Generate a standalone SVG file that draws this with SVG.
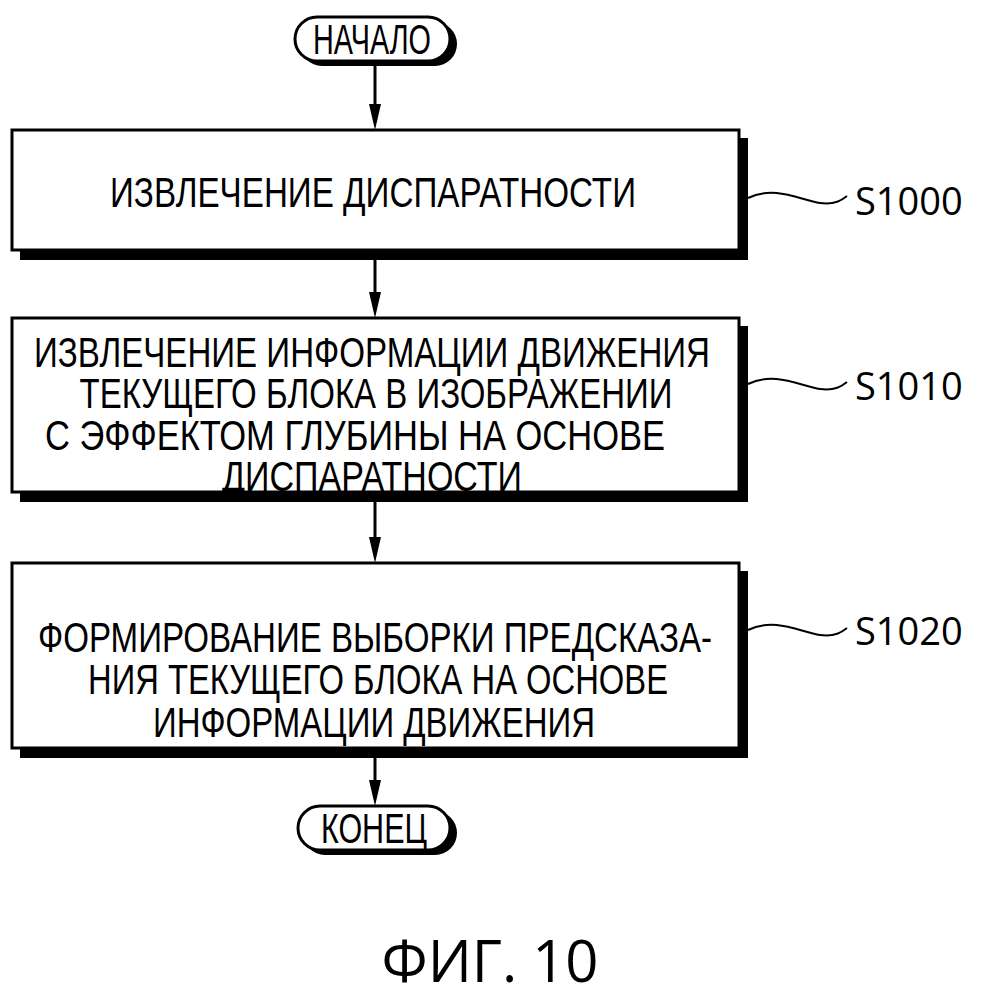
<svg xmlns="http://www.w3.org/2000/svg" width="984" height="1000" viewBox="0 0 984 1000">
<defs>
<style>
.box{fill:#fff;stroke:#000;stroke-width:3}
.sh{fill:#000}
.t{font-family:"Liberation Sans",Arial,sans-serif;font-size:42px;text-anchor:middle;fill:#000}
.lb{font-family:"Open Sans","Noto Sans",sans-serif;font-size:38px;fill:#000}
.ln{fill:none;stroke:#000;stroke-width:3}
.sq{fill:none;stroke:#000;stroke-width:2}
</style>
</defs>
<g id="connectors">
<line class="ln" x1="375" y1="66" x2="375" y2="110"/><path d="M369,104 L381,104 L375,130 Z"/>
<line class="ln" x1="375" y1="260" x2="375" y2="296"/><path d="M369,292 L381,292 L375,318 Z"/>
<line class="ln" x1="375" y1="502" x2="375" y2="540"/><path d="M369,537 L381,537 L375,563 Z"/>
<line class="ln" x1="375" y1="758" x2="375" y2="784"/><path d="M369,780 L381,780 L375,806 Z"/>
<path class="sq" d="M748,198 C775,185 800,200 820,203 C835,205 842,200 847,196"/>
<path class="sq" d="M748,384 C775,371 800,386 820,389 C835,391 842,386 847,382"/>
<path class="sq" d="M748,630 C775,617 800,632 820,635 C835,637 842,632 847,628"/>
</g>
<g id="start">
<rect class="sh" x="300" y="22" width="157" height="44" rx="22"/>
<rect class="box" x="295" y="17" width="155" height="44" rx="22"/>
<text class="t" x="372" y="54" textLength="118" lengthAdjust="spacingAndGlyphs">НАЧАЛО</text>
</g>
<g id="s1000">
<rect class="sh" x="20" y="138" width="728" height="122"/>
<rect class="box" x="12" y="130" width="727" height="120"/>
<text class="t" x="373" y="207" textLength="526" lengthAdjust="spacingAndGlyphs">ИЗВЛЕЧЕНИЕ ДИСПАРАТНОСТИ</text>
<text class="lb" x="855" y="215">S1000</text>
</g>
<g id="s1010">
<rect class="sh" x="20" y="326" width="728" height="176"/>
<rect class="box" x="12" y="318" width="727" height="174"/>
<text class="t" x="372" y="367" textLength="676" lengthAdjust="spacingAndGlyphs">ИЗВЛЕЧЕНИЕ ИНФОРМАЦИИ ДВИЖЕНИЯ</text>
<text class="t" x="376" y="408" textLength="593" lengthAdjust="spacingAndGlyphs">ТЕКУЩЕГО БЛОКА В ИЗОБРАЖЕНИИ</text>
<text class="t" x="355" y="450" textLength="620" lengthAdjust="spacingAndGlyphs">С ЭФФЕКТОМ ГЛУБИНЫ НА ОСНОВЕ</text>
<text class="t" x="372" y="491" textLength="300" lengthAdjust="spacingAndGlyphs">ДИСПАРАТНОСТИ</text>
<text class="lb" x="855" y="400">S1010</text>
</g>
<g id="s1020">
<rect class="sh" x="20" y="571" width="728" height="187"/>
<rect class="box" x="12" y="563" width="727" height="185"/>
<text class="t" x="375" y="652" textLength="674" lengthAdjust="spacingAndGlyphs">ФОРМИРОВАНИЕ ВЫБОРКИ ПРЕДСКАЗА-</text>
<text class="t" x="378" y="694" textLength="580" lengthAdjust="spacingAndGlyphs">НИЯ ТЕКУЩЕГО БЛОКА НА ОСНОВЕ</text>
<text class="t" x="374" y="737" textLength="442" lengthAdjust="spacingAndGlyphs">ИНФОРМАЦИИ ДВИЖЕНИЯ</text>
<text class="lb" x="855" y="645">S1020</text>
</g>
<g id="end">
<rect class="sh" x="303" y="811" width="154" height="44" rx="22"/>
<rect class="box" x="298" y="806" width="152" height="44" rx="22"/>
<text class="t" x="374" y="843" textLength="106" lengthAdjust="spacingAndGlyphs">КОНЕЦ</text>
</g>
<text class="lb" x="490" y="982" text-anchor="middle" style="font-size:58px">ФИГ. 10</text>
</svg>
